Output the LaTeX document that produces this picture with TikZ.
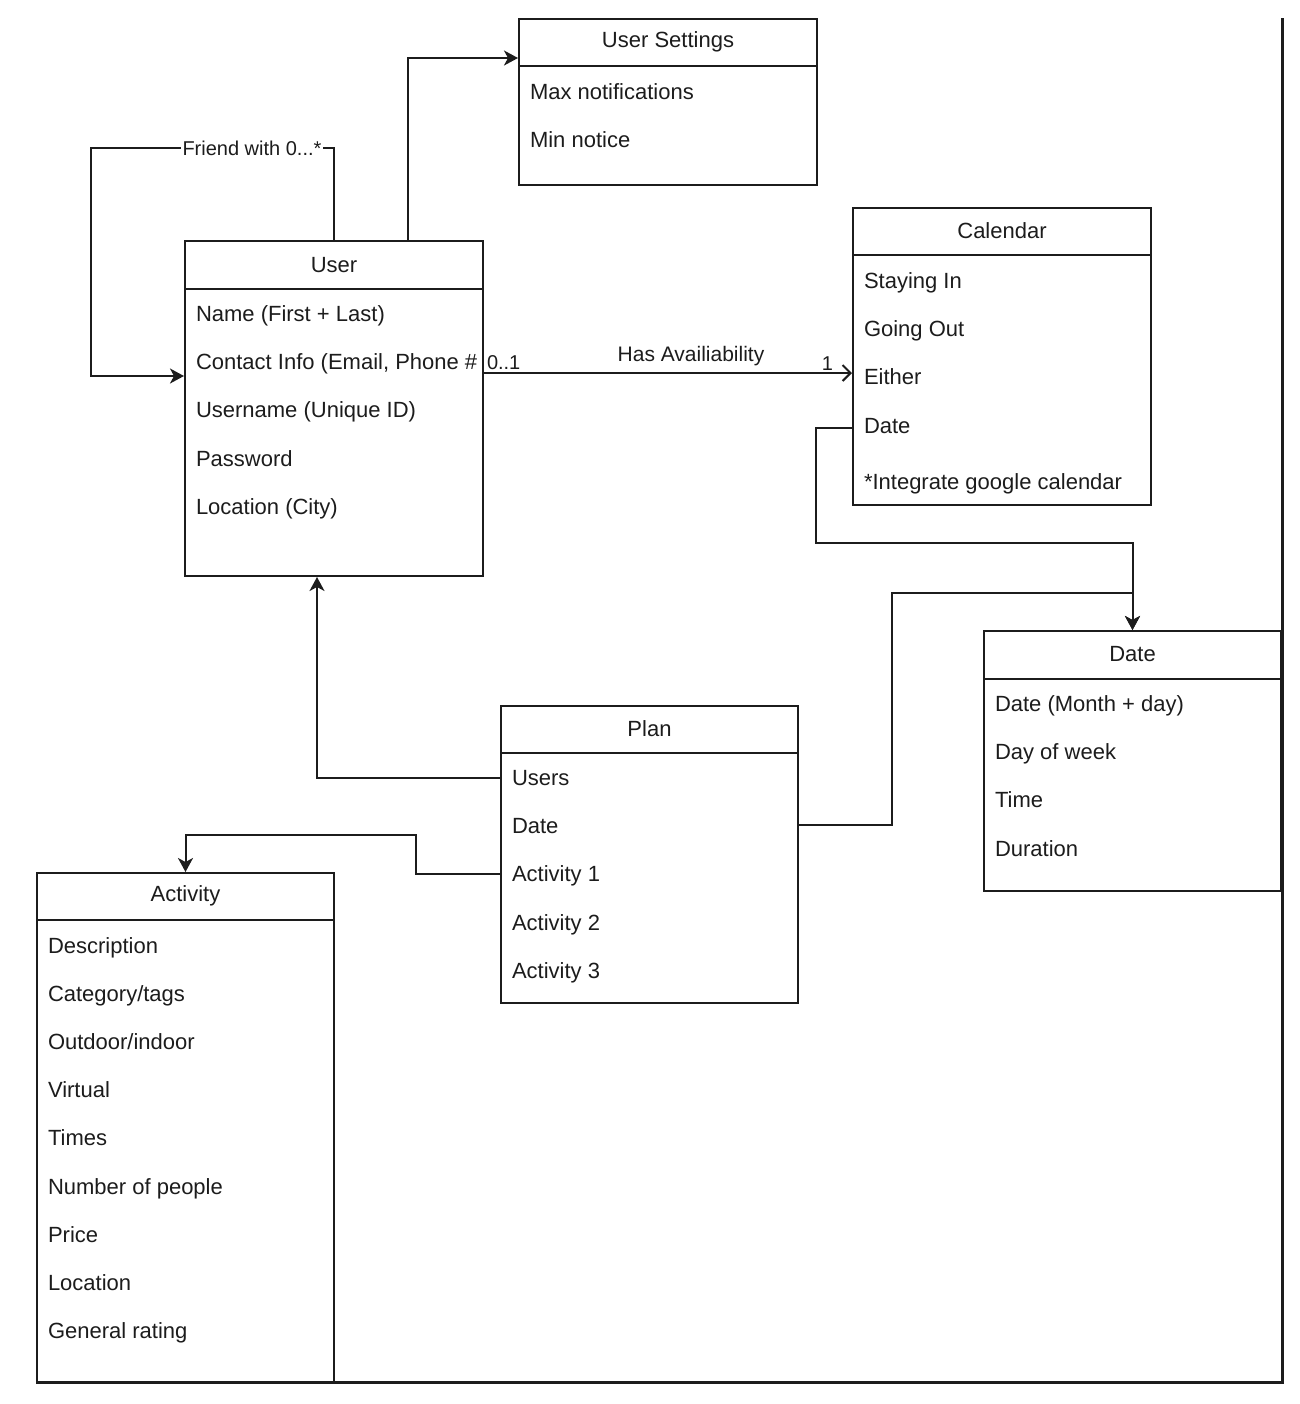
\documentclass[tikz,border=0pt]{standalone}
\usepackage{fontspec}
\setmainfont{Liberation Sans}
\usetikzlibrary{arrows.meta,positioning}
\definecolor{ink}{HTML}{1C1C1C}

\begin{document}
\begin{tikzpicture}[x=0.5pt,y=-0.5pt,line width=1pt,draw=ink,text=ink,
cls/.style={draw,anchor=north west,minimum width=149pt,inner sep=0pt},
ttl/.style={font=\fontsize{11}{13}\selectfont},
itm/.style={anchor=base west,inner sep=0pt,font=\fontsize{11}{13}\selectfont},
lbl/.style={font=\fontsize{10}{12}\selectfont,inner sep=1pt},
arr/.style={-{Stealth[length=7pt,width=7.5pt,inset=2pt]}},
oarr/.style={-{Straight Barb[length=4pt,width=8pt]}}]
\useasboundingbox (0,0) rectangle (1300,1404);

% classes
\node[cls,minimum height=83pt] (sett) at (518,18) {};
\node[ttl] (setttl) at ([yshift=-12pt]sett.north) {User Settings};
\draw ([yshift=-24pt]sett.north west) -- ([yshift=-24pt]sett.north east);
\node[itm] (s1) at ([xshift=5.5pt,yshift=-40.5pt]sett.north west) {Max notifications};
\node[itm] (s2) at ([yshift=-24.2pt]s1.base west) {Min notice};

\node[cls,minimum height=167.5pt] (user) at (184,240) {};
\node[ttl] (userttl) at ([yshift=-12.5pt]user.north) {User};
\draw ([yshift=-24.5pt]user.north west) -- ([yshift=-24.5pt]user.north east);
\node[itm] (u1) at ([xshift=5.5pt,yshift=-40.5pt]user.north west) {Name (First + Last)};
\node[itm] (u2) at ([yshift=-24.2pt]u1.base west) {Contact Info (Email, Phone \#};
\node[itm] (u3) at ([yshift=-24.2pt]u2.base west) {Username (Unique ID)};
\node[itm] (u4) at ([yshift=-24.2pt]u3.base west) {Password};
\node[itm] (u5) at ([yshift=-24.2pt]u4.base west) {Location (City)};

\node[cls,minimum height=148.5pt] (cal) at (852,207) {};
\node[ttl] (calttl) at ([yshift=-12pt]cal.north) {Calendar};
\draw ([yshift=-24pt]cal.north west) -- ([yshift=-24pt]cal.north east);
\node[itm] (c1) at ([xshift=5.5pt,yshift=-40.5pt]cal.north west) {Staying In};
\node[itm] (c2) at ([yshift=-24.2pt]c1.base west) {Going Out};
\node[itm] (c3) at ([yshift=-24.2pt]c2.base west) {Either};
\node[itm] (c4) at ([yshift=-24.2pt]c3.base west) {Date};
\node[itm] (c5) at ([yshift=-28pt]c4.base west) {*Integrate google calendar};

\node[cls,minimum width=148.5pt,minimum height=130pt] (date) at (983,630) {};
\node[ttl] (datettl) at ([yshift=-12pt]date.north) {Date};
\draw ([yshift=-24.5pt]date.north west) -- ([yshift=-24.5pt]date.north east);
\node[itm] (d1) at ([xshift=5.5pt,yshift=-40.5pt]date.north west) {Date (Month + day)};
\node[itm] (d2) at ([yshift=-24.2pt]d1.base west) {Day of week};
\node[itm] (d3) at ([yshift=-24.2pt]d2.base west) {Time};
\node[itm] (d4) at ([yshift=-24.2pt]d3.base west) {Duration};

\node[cls,minimum width=148.5pt,minimum height=148.5pt] (plan) at (500,705) {};
\node[ttl] (planttl) at ([yshift=-12pt]plan.north) {Plan};
\draw ([yshift=-24pt]plan.north west) -- ([yshift=-24pt]plan.north east);
\node[itm] (p1) at ([xshift=5.5pt,yshift=-40pt]plan.north west) {Users};
\node[itm] (p2) at ([yshift=-24.2pt]p1.base west) {Date};
\node[itm] (p3) at ([yshift=-24.2pt]p2.base west) {Activity 1};
\node[itm] (p4) at ([yshift=-24.2pt]p3.base west) {Activity 2};
\node[itm] (p5) at ([yshift=-24.2pt]p4.base west) {Activity 3};

\node[cls,minimum width=148.5pt,minimum height=255pt] (act) at (36,872) {};
\node[ttl] (actttl) at ([yshift=-12pt]act.north) {Activity};
\draw ([yshift=-24pt]act.north west) -- ([yshift=-24pt]act.north east);
\node[itm] (a1) at ([xshift=5.5pt,yshift=-40.5pt]act.north west) {Description};
\node[itm] (a2) at ([yshift=-24.1pt]a1.base west) {Category/tags};
\node[itm] (a3) at ([yshift=-24.1pt]a2.base west) {Outdoor/indoor};
\node[itm] (a4) at ([yshift=-24.1pt]a3.base west) {Virtual};
\node[itm] (a5) at ([yshift=-24.1pt]a4.base west) {Times};
\node[itm] (a6) at ([yshift=-24.1pt]a5.base west) {Number of people};
\node[itm] (a7) at ([yshift=-24.1pt]a6.base west) {Price};
\node[itm] (a8) at ([yshift=-24.1pt]a7.base west) {Location};
\node[itm] (a9) at ([yshift=-24.1pt]a8.base west) {General rating};

% connectors
\draw[arr] (user.north) -- ++(0,-92) -| (91,376) -- ([yshift=-68pt]user.north west);
\node[lbl,fill=white] (friend) at (252,148) {Friend with 0...*};
\draw[arr] ([xshift=37pt]user.north) |- ([yshift=-20pt]sett.north west);
\draw[oarr] ([yshift=-66.5pt]user.north east) coordinate (ha) -- (ha -| cal.west);
\node[lbl,anchor=south west,fill=white] (hafrom) at (484,373) {0..1};
\node[lbl,anchor=south east] (hato) at (836,373) {1};
\node[lbl,font=\fontsize{10.5}{12}\selectfont] (halbl) at (691,356) {Has Availiability};
\draw[arr] ([yshift=-110.5pt]cal.north west) -- ++(-36,0) -- ++(0,115) -| (date.north);
\draw[arr] ([yshift=-60pt]plan.north east) -- ++(93,0) |- ([yshift=18.5pt]date.north) -- (date.north);
\draw[arr] ([yshift=-36.5pt]plan.north west) -| ([xshift=-8.5pt]user.south);
\draw[arr] ([yshift=-84.5pt]plan.north west) -- ++(-84,0) -- ++(0,-39) -| (act.north);
\draw[line width=1.5pt] (36,1382) -- (1282,1382) -- (1282,18);
\end{tikzpicture}
\end{document}
